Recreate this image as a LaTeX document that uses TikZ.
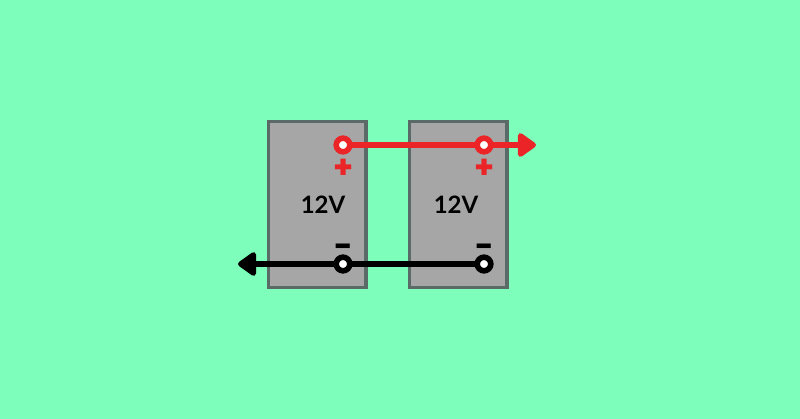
\documentclass[tikz,border=0pt]{standalone}
\usepackage{fontspec}
\setmainfont{Lato}
\newfontfamily\signfont{Poppins}
\usetikzlibrary{arrows.meta}
\definecolor{bgc}{HTML}{7DFFBB}
\definecolor{batf}{HTML}{A6A6A6}
\definecolor{batd}{HTML}{5A6A66}
\definecolor{redw}{HTML}{EA2427}
\tikzset{
  battery/.style={draw=batd,fill=batf,line width=3.4pt,minimum width=97.1pt,minimum height=166.1pt,inner sep=0pt,anchor=north west},
  terminal/.style={circle,draw=#1,fill=white,line width=5.6pt,minimum size=13.6pt,inner sep=0pt},
  wire/.style={draw=#1,line width=5.4pt,-{Triangle[length=20pt,width=27pt,round]}},
  volt/.style={font=\fontsize{24}{28}\selectfont\bfseries,text=black,inner sep=0pt},
  sign/.style={font=\signfont\fontsize{32}{34}\selectfont\bfseries,text=#1,inner sep=0pt}
}
\begin{document}
\begin{tikzpicture}[x=1pt,y=-1pt]
\useasboundingbox (0,0) rectangle (800,419);
\fill[bgc] (0,0) rectangle (800,419);
\node[battery] (b1) at (267,120) {};
\node[battery] (b2) at (408,120) {};
\node[volt] (v1) at (323,205) {12V};
\node[volt] (v2) at (456,205) {12V};
\coordinate (redend) at (536,145);
\coordinate (blackend) at (238,264);
\coordinate (r1) at (343,145);
\coordinate (r2) at (484,145);
\coordinate (k1) at (343,264);
\coordinate (k2) at (484,264);
\draw[wire=redw] (r1) -- (redend);
\draw[wire=black] (k2) -- (blackend);
\node[terminal=redw] (tr1) at (r1) {};
\node[terminal=redw] (tr2) at (r2) {};
\node[terminal=black] (tk1) at (k1) {};
\node[terminal=black] (tk2) at (k2) {};
\node[sign=redw] (p1) at (343.6,169) {+};
\node[sign=redw] (p2) at (484.6,169) {+};
\node[sign=black] (m1) at (343.6,251) {−};
\node[sign=black] (m2) at (484.6,251) {−};
\end{tikzpicture}
\end{document}
